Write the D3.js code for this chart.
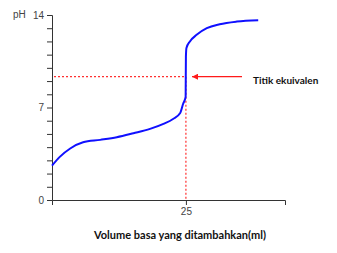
<!DOCTYPE html>
<html>
<head>
<meta charset="utf-8">
<script src="https://cdn.jsdelivr.net/npm/d3@7"></script>
<style>
  body { margin: 0; background: #fff; }
  svg { display: block; }
</style>
</head>
<body>
<div id="chart"></div>
<script>
// DATA
var volume = [0, 1.5, 3.4, 5.8, 9.0, 12.1, 15.2, 18.3, 20.8, 22.6, 23.9, 24.5, 24.95, 25.0, 25.1, 25.75, 27.0, 28.9, 31.3, 34.5, 38.5];
var ph     = [2.6, 3.28, 3.9, 4.37, 4.55, 4.75, 5.05, 5.38, 5.76, 6.13, 6.56, 7.3, 7.8, 10.85, 11.5, 12.0, 12.5, 13.0, 13.3, 13.5, 13.6];
var xTicks = [25];
var yTicks = [0, 1, 2, 3, 4, 5, 6, 7, 8, 9, 10, 11, 12, 13, 14];
var yLabels = [0, 7, 14];
var eqVolume = 25;
var eqPh = 9.33;

var width = 337, height = 253;

var svg = d3.select("#chart")
    .append("svg")
    .attr("width", width)
    .attr("height", height);

// Scales
var x = d3.scaleLinear().domain([0, 43.5]).range([52, 285]);
var y = d3.scaleLinear().domain([0, 14]).range([200, 15]);

var axisColor = "#333";
var font = "'Liberation Sans', Arial, sans-serif";

// x axis
var gx = svg.append("g")
    .attr("transform", "translate(0,200)")
    .call(d3.axisBottom(x).tickValues(xTicks).tickSizeOuter(0).tickSize(5).tickPadding(3));
gx.select(".domain").attr("stroke", axisColor);
gx.selectAll(".tick line").attr("stroke", axisColor);
gx.selectAll(".tick text").attr("fill", "#444").style("font-family", font).style("font-size", "10px");

// y axis
var gy = svg.append("g")
    .attr("transform", "translate(52,0)")
    .call(d3.axisLeft(y).tickValues(yTicks).tickSizeOuter(0).tickSize(5).tickPadding(3)
        .tickFormat(function(d) { return yLabels.indexOf(d) >= 0 ? d : ""; }));
gy.select(".domain").attr("stroke", axisColor);
gy.selectAll(".tick line").attr("stroke", axisColor);
gy.selectAll(".tick text").attr("fill", "#444").style("font-family", font).style("font-size", "10px");

// pH label
svg.append("text")
    .attr("x", 13)
    .attr("y", 18)
    .attr("fill", "#444")
    .style("font-family", font)
    .style("font-size", "10px")
    .text("pH");

// Dashed equivalence lines
svg.append("line")
    .attr("x1", x(0) + 2).attr("x2", x(eqVolume))
    .attr("y1", y(eqPh)).attr("y2", y(eqPh))
    .attr("stroke", "#ff3030").attr("stroke-width", 1.2)
    .attr("stroke-dasharray", "2,2");
svg.append("line")
    .attr("x1", x(eqVolume)).attr("x2", x(eqVolume))
    .attr("y1", y(eqPh)).attr("y2", y(0) - 1)
    .attr("stroke", "#ff3030").attr("stroke-width", 1.2)
    .attr("stroke-dasharray", "2,2");

// Titration curve
var points = volume.map(function(v, i) { return [v, ph[i]]; });
svg.append("path")
    .datum(points)
    .attr("fill", "none")
    .attr("stroke", "#1010ff")
    .attr("stroke-width", 2)
    .attr("d", d3.line()
        .x(function(d) { return x(d[0]); })
        .y(function(d) { return y(d[1]); })
        .curve(d3.curveMonotoneX));

// Arrow pointing at the equivalence point
svg.append("defs").append("marker")
    .attr("id", "arrow")
    .attr("viewBox", "0 0 10 10")
    .attr("refX", 10).attr("refY", 5)
    .attr("markerUnits", "userSpaceOnUse")
    .attr("markerWidth", 9).attr("markerHeight", 6)
    .attr("orient", "auto")
    .append("path")
    .attr("d", "M0,0 L10,5 L0,10 Z")
    .attr("fill", "#ff1a1a");

svg.append("line")
    .attr("x1", 242).attr("x2", 192)
    .attr("y1", y(eqPh)).attr("y2", y(eqPh))
    .attr("stroke", "#ff1a1a").attr("stroke-width", 1.3)
    .attr("marker-end", "url(#arrow)");

svg.append("text")
    .attr("x", 253)
    .attr("y", 84)
    .attr("fill", "#111")
    .style("font-family", "Lato, sans-serif")
    .style("font-weight", "bold")
    .style("font-size", "10px")
    .text("Titik ekuivalen");

// x axis title
svg.append("text")
    .attr("x", 180)
    .attr("y", 239)
    .attr("text-anchor", "middle")
    .attr("fill", "#111")
    .style("font-family", "Lato, sans-serif")
    .style("font-weight", "bold")
    .style("font-size", "11px")
    .text("Volume basa yang ditambahkan(ml)");
</script>
</body>
</html>
